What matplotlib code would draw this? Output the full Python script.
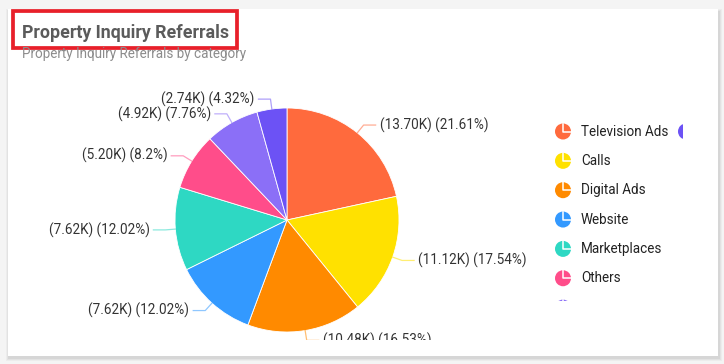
import numpy as np
import matplotlib
matplotlib.use("Agg")
import matplotlib.pyplot as plt
from matplotlib.patches import Rectangle, Circle
from matplotlib.transforms import Bbox

plt.rcParams['font.family'] = ['Roboto', 'DejaVu Sans']

# ---- data ----
categories = ["Television Ads", "Calls", "Digital Ads", "Website", "Marketplaces",
              "Others", "Social Media", "Referrals"]
values_k = [13.70, 11.12, 10.48, 7.62, 7.62, 5.20, 4.92, 2.74]
percents = [21.61, 17.54, 16.53, 12.02, 12.02, 8.2, 7.76, 4.32]
colors = ["#FF6A3D", "#FFE100", "#FF8A00", "#3399FF", "#2ED8C3",
          "#FF4D8A", "#8B6FF7", "#6C52F5"]
title = "Property Inquiry Referrals"
subtitle = "Property Inquiry Referrals by category"

W, H = 724, 364
fig = plt.figure(figsize=(W / 100, H / 100), dpi=100, facecolor="#f4f4f4")

# background / overlay axes in pixel coordinates (y down)
bg = fig.add_axes([0, 0, 1, 1])
bg.set_xlim(0, W)
bg.set_ylim(H, 0)
bg.axis("off")
bg.set_zorder(0)

# card with soft shadow
for i, a in enumerate([0.05, 0.04, 0.03]):
    bg.add_patch(Rectangle((8 - i, 9 - i + 2), 710 + 2 * i + 2, 347 + 2 * i + 1,
                           facecolor="#000000", alpha=a, edgecolor="none"))
bg.add_patch(Rectangle((8, 9), 710, 347, facecolor="white", edgecolor="none"))

# title + highlight box
bg.text(21.5, 33, title, fontsize=12.8, fontweight="bold", color="#5b5b5b",
        va="center", ha="left")
bg.add_patch(Rectangle((12.8, 11.2), 224, 37, facecolor="none",
                       edgecolor="#E8202A", linewidth=2.7))
bg.text(22, 54, subtitle, fontsize=9.75, color="#8c8c8c", va="center", ha="left")

# ---- pie ----
cx, cy, R = 287, 220, 112
pax = fig.add_axes([(cx - R) / W, (H - cy - R) / H, 2 * R / W, 2 * R / H])
pax.set_zorder(1)
wedges, _ = pax.pie(values_k, colors=colors, startangle=90, counterclock=False,
                    radius=1, wedgeprops=dict(linewidth=0.6, edgecolor="#ffffff"))
pax.set_xlim(-1, 1)
pax.set_ylim(-1, 1)
pax.set_aspect("equal")
pax.axis("off")

clip_chart = Bbox.from_extents(0, H - 340, 683, H)
px = 1.0 / R
for w, v, p, c in zip(wedges, values_k, percents, colors):
    ang = np.deg2rad((w.theta1 + w.theta2) / 2)
    ca, sa = np.cos(ang), np.sin(ang)
    x0, y0 = ca, sa
    x1, y1 = (1 + 10 * px) * ca, (1 + 10 * px) * sa
    side = 1 if ca >= 0 else -1
    x2 = x1 + side * 12 * px
    ln, = pax.plot([x0, x1, x2], [y0, y1, y1], color=c, alpha=0.55, lw=0.9)
    ln.set_clip_box(clip_chart)
    ln.set_clip_on(True)
    t = pax.text(x2 + side * 4 * px, y1, f"({v:.2f}K) ({p:g}%)", fontsize=9.75,
                 color="#333333", ha="left" if side > 0 else "right", va="center")
    t.set_clip_box(clip_chart)
    t.set_clip_on(True)

# ---- legend (clipped like the original: only 6 full rows visible) ----
leg_clip = Bbox.from_extents(0, H - 301, 683, H)
row_y0, row_dy = 131.5, 29.35
for i, (name, c) in enumerate(zip(categories, colors)):
    if i < 7:
        mx, my = 563, row_y0 + i * row_dy
    else:
        mx, my = 686, row_y0 + (i - 7) * row_dy
    circ = Circle((mx, my), 8, facecolor=c, edgecolor="none", zorder=3)
    bg.add_patch(circ)
    circ.set_clip_box(leg_clip)
    circ.set_clip_on(True)
    l1, = bg.plot([mx, mx, mx + 8], [my - 8, my, my], color="white", lw=1.1, zorder=4)
    l1.set_clip_box(leg_clip)
    l1.set_clip_on(True)
    if i < 6:
        bg.text(mx + 18, my, name, fontsize=9.75, color="#222222", va="center",
                ha="left", zorder=4)

fig.savefig("out.png", dpi=100, facecolor=fig.get_facecolor())
